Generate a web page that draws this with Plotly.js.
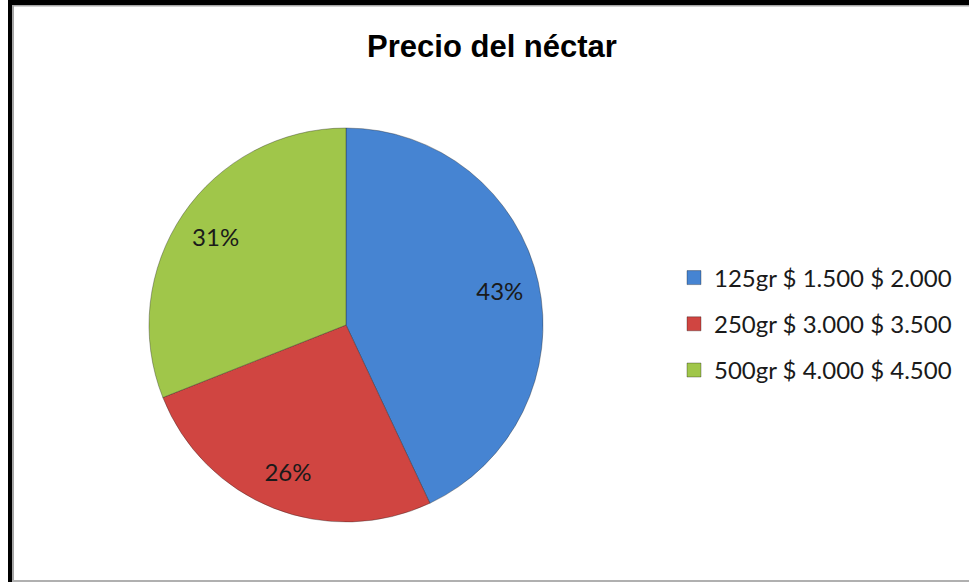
<!DOCTYPE html>
<html>
<head>
<meta charset="utf-8">
<script src="https://cdn.plot.ly/plotly-3.0.1.min.js"></script>
<style>html,body{margin:0;padding:0;background:#fff;}#chart{width:969px;height:582px;}</style>
</head>
<body>
<div id="chart"></div>
<script>
const categories = ["125gr $ 1.500 $ 2.000", "250gr $ 3.000 $ 3.500", "500gr $ 4.000 $ 4.500"];
const shares = [43, 26, 31];
const sliceColors = ["#4684d2", "#d04541", "#a0c64a"];

const W = 969, H = 582;
const px = v => v / W, py = v => 1 - v / H;
const pieDomain = {x: [px(149), px(543)], y: [py(522), py(128)]};
const labelFont = {family: "Lato, 'Open Sans', sans-serif", size: 24, color: "#1a1a1a"};

const data = [
  // full pie (fills the slices)
  {
    type: "pie", labels: categories, values: shares, sort: false,
    direction: "clockwise", rotation: 0, textinfo: "none",
    marker: {colors: sliceColors, line: {color: "rgba(30,30,30,0.35)", width: 1}},
    domain: pieDomain, showlegend: false, hoverinfo: "skip"
  },
  // ring on top, carries the percentage labels further out, as in the reference
  {
    type: "pie", labels: categories, values: shares, sort: false, hole: 0.6,
    direction: "clockwise", rotation: 0,
    texttemplate: "%{percent:.0%}", textposition: "inside",
    insidetextorientation: "horizontal", textfont: labelFont,
    marker: {colors: "transparent" && ["rgba(0,0,0,0)", "rgba(0,0,0,0)", "rgba(0,0,0,0)"], line: {color: "rgba(0,0,0,0)", width: 0}},
    domain: pieDomain, showlegend: false, hoverinfo: "label+percent"
  }
];

// legend entries
categories.forEach((c, i) => {
  data.push({
    type: "scatter", mode: "markers", x: [null], y: [null], name: c,
    legendgroup: "g" + i, showlegend: true,
    marker: {symbol: "square", size: 14, color: sliceColors[i], line: {color: "rgba(0,0,0,0.3)", width: 1}},
    hoverinfo: "skip"
  });
});

const layout = {
  width: W, height: H,
  margin: {l: 0, r: 0, t: 0, b: 0},
  paper_bgcolor: "#ffffff", plot_bgcolor: "rgba(0,0,0,0)",
  xaxis: {visible: false}, yaxis: {visible: false},
  showlegend: true,
  title: {text: "Precio del néctar", x: px(492), xanchor: "center", y: py(46), yanchor: "middle",
          font: {family: "Liberation Sans, Arial, sans-serif", size: 31, color: "#000", weight: "bold"}},
  legend: {x: px(674), xanchor: "left", y: py(324), yanchor: "middle",
           font: labelFont, tracegroupgap: 12, bgcolor: "rgba(0,0,0,0)"},
  shapes: [
    {type: "rect", xref: "paper", yref: "paper", x0: px(8), x1: 1, y0: py(5), y1: 1, fillcolor: "#000", line: {width: 0}},
    {type: "rect", xref: "paper", yref: "paper", x0: px(8), x1: px(12), y0: 0, y1: 1, fillcolor: "#000", line: {width: 0}},
    {type: "rect", xref: "paper", yref: "paper", x0: px(12), x1: px(14), y0: 0, y1: py(5), fillcolor: "#a6a6a6", line: {width: 0}},
    {type: "rect", xref: "paper", yref: "paper", x0: px(12), x1: 1, y0: py(6.5), y1: py(5), fillcolor: "#a6a6a6", line: {width: 0}},
    {type: "rect", xref: "paper", yref: "paper", x0: px(12), x1: 1, y0: 0, y1: py(580), fillcolor: "#b0b0b0", line: {width: 0}}
  ]
};

Plotly.newPlot("chart", data, layout, {displayModeBar: false, staticPlot: true});
</script>
</body>
</html>
